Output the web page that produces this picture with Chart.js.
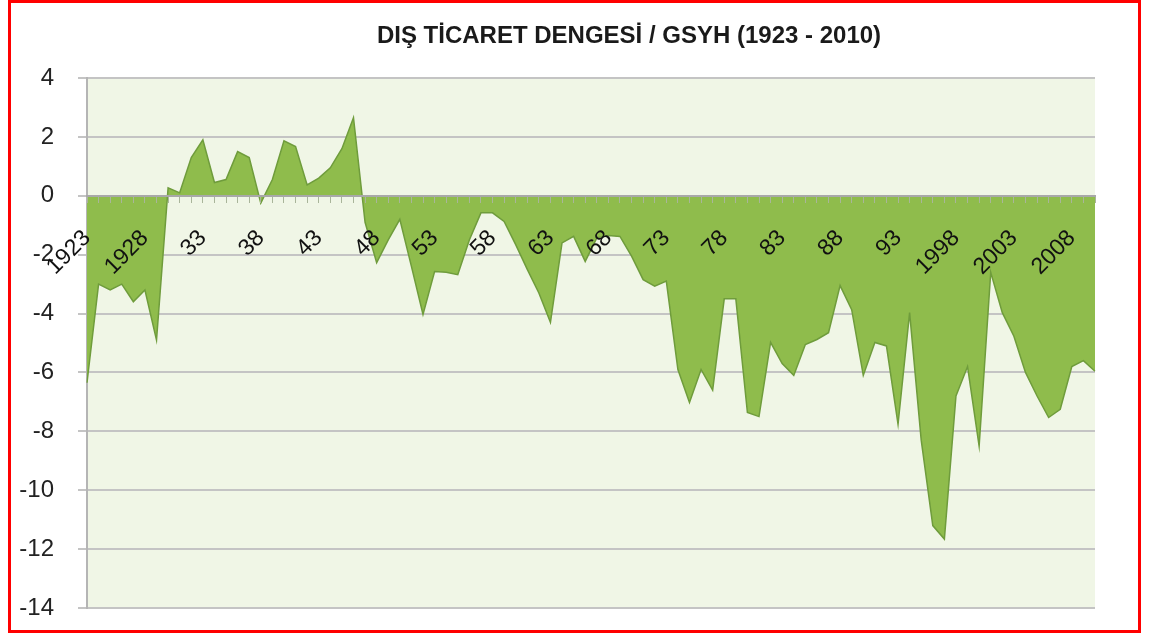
<!DOCTYPE html>
<html>
<head>
<meta charset="utf-8">
<script src="https://cdn.jsdelivr.net/npm/chart.js@4"></script>
<style>
  body { margin: 0; background: #fff; }
  #wrap { position: relative; width: 1152px; height: 637px; }
  #frame { position: absolute; left: 8px; top: 0; width: 1133px; height: 633px;
           box-sizing: border-box; border: 3px solid #f00; pointer-events: none; }
</style>
</head>
<body>
<div id="wrap">
  <canvas id="chart" width="1152" height="637"></canvas>
  <div id="frame"></div>
</div>
<script>
// years 1923 - 2010
const years = [];
for (let y = 1923; y <= 2010; y++) years.push(String(y));

// every fifth year gets a label, written the way the original axis shows it
const tickLabels = ['1923', '1928', '33', '38', '43', '48', '53', '58', '63', '68',
                    '73', '78', '83', '88', '93', '1998', '2003', '2008'];

// trade balance / GDP (%)
const balance = [
  -6.35, -3.0, -3.2, -3.0, -3.6, -3.2, -4.9, 0.27, 0.1, 1.3,      // 1923-1932
  1.9, 0.45, 0.55, 1.5, 1.3, -0.25, 0.55, 1.87, 1.67, 0.37,       // 1933-1942
  0.6, 0.95, 1.6, 2.65, -0.9, -2.27, -1.5, -0.8, -2.4, -4.03,     // 1943-1952
  -2.57, -2.6, -2.68, -1.5, -0.58, -0.58, -0.87, -1.66, -2.5, -3.3, // 1953-1962
  -4.3, -1.6, -1.38, -2.23, -1.43, -1.35, -1.38, -2.05, -2.85, -3.07, // 1963-1972
  -2.9, -5.9, -7.02, -5.9, -6.6, -3.5, -3.5, -7.36, -7.5, -4.98,  // 1973-1982
  -5.7, -6.1, -5.05, -4.88, -4.65, -3.05, -3.87, -6.1, -4.98, -5.1, // 1983-1992
  -7.76, -3.97, -8.3, -11.2, -11.66, -6.8, -5.8, -8.5, -2.6, -3.97, // 1993-2002
  -4.77, -6.0, -6.8, -7.53, -7.25, -5.8, -5.6, -5.96              // 2003-2010
];

const titleText = 'DIŞ TİCARET DENGESİ / GSYH (1923 - 2010)';

// plot background and title
const decor = {
  id: 'decor',
  beforeDraw(chart) {
    const { ctx, chartArea: a } = chart;
    ctx.save();
    ctx.fillStyle = '#f0f6e6';
    ctx.fillRect(a.left, a.top, a.right - a.left, a.bottom - a.top);
    ctx.restore();
  },
  afterDraw(chart) {
    const ctx = chart.ctx;
    ctx.save();
    ctx.font = 'bold 24px "Liberation Sans", Arial, sans-serif';
    ctx.fillStyle = '#1a1a1a';
    ctx.textAlign = 'center';
    ctx.textBaseline = 'alphabetic';
    ctx.fillText(titleText, 629, 43);
    ctx.restore();
  }
};

new Chart(document.getElementById('chart'), {
  type: 'line',
  data: {
    labels: years,
    datasets: [{
      data: balance,
      fill: 'origin',
      backgroundColor: '#8fbc4c',
      borderColor: '#6f9c3c',
      borderWidth: 1.5,
      pointRadius: 0,
      tension: 0
    }]
  },
  options: {
    responsive: false,
    animation: false,
    layout: { padding: { left: 0, top: 78, right: 57, bottom: 29 } },
    plugins: {
      legend: { display: false },
      tooltip: { enabled: false }
    },
    scales: {
      x: {
        position: { y: 0 },
        // axis line, tick marks and labels sit on top of the area, like in Excel
        grid: { z: 1, drawOnChartArea: false, drawTicks: true, tickLength: 6, color: '#a9b59a' },
        border: { z: 1, color: '#a8a8a8', width: 2 },
        ticks: {
          z: 1,
          autoSkip: false,
          minRotation: 45,
          maxRotation: 45,
          padding: 23,
          color: '#111',
          font: { family: '"Liberation Sans", Arial, sans-serif', size: 23 },
          callback: (v, i) => (i % 5 === 0 ? tickLabels[i / 5] : '')
        }
      },
      y: {
        min: -14,
        max: 4,
        // fixed axis width; the layout padding alone decides the plot's top and bottom
        afterFit: (scale) => { scale.width = 87; scale.paddingTop = 0; scale.paddingBottom = 0; },
        grid: { color: '#c4c4c4', lineWidth: 2, tickLength: 9 },
        border: { color: '#b5b5b5', width: 2 },
        ticks: {
          stepSize: 2,
          padding: 24,
          color: '#222',
          font: { family: '"Liberation Sans", Arial, sans-serif', size: 24 }
        }
      }
    }
  },
  plugins: [decor]
});
</script>
</body>
</html>
